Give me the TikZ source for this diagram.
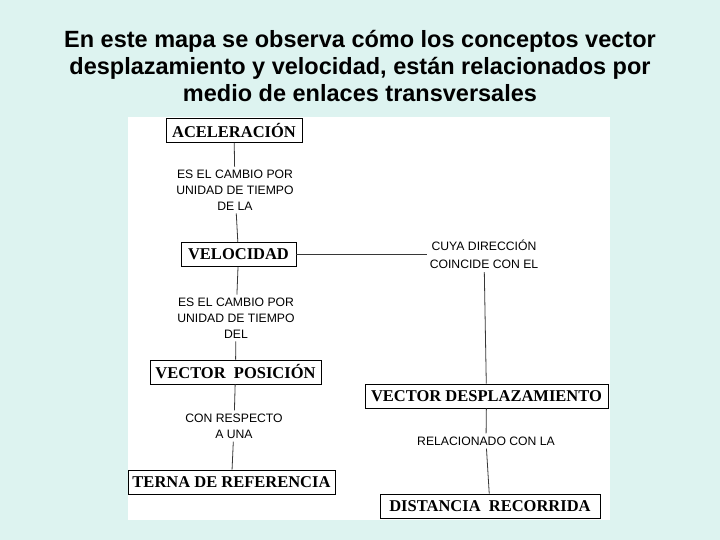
\documentclass[tikz,border=0pt]{standalone}
\usepackage{fontspec}
\setmainfont{Liberation Serif}
\setsansfont{Liberation Sans}
\definecolor{bgmint}{RGB}{221,243,240}
\definecolor{linkgray}{RGB}{55,55,55}
\begin{document}
\begin{tikzpicture}[x=1pt,y=-1pt,
  concept/.style={draw=black,line width=0.8pt,fill=white,inner sep=1pt,
                  minimum height=24pt,font=\rmfamily\bfseries\fontsize{16.5}{18}\selectfont},
  rel/.style={align=center,inner sep=3pt,font=\sffamily\fontsize{12.2}{16}\selectfont},
  link/.style={line width=0.8pt,linkgray}]
\fill[bgmint] (0,0) rectangle (720,540);
\useasboundingbox (0,0) rectangle (720,540);
\fill[white] (128,117) rectangle (610,520);
\node[align=center,font=\sffamily\bfseries\fontsize{23.5}{27}\selectfont] (title) at (360,66)
  {En este mapa se observa cómo los conceptos vector\\
   desplazamiento y velocidad, están relacionados por\\
   medio de enlaces transversales};
\node[concept,minimum width=136pt] (acel)  at (234,130.5) {ACELERACIÓN};
\node[concept,minimum width=115pt] (velo)  at (238.5,254.5) {VELOCIDAD};
\node[concept,minimum width=171pt] (vpos)  at (235.5,372) {VECTOR\ \ POSICIÓN};
\node[concept,minimum width=207pt] (terna) at (231.5,482) {TERNA DE REFERENCIA};
\node[concept,minimum width=243pt] (vdesp) at (486.5,396) {VECTOR DESPLAZAMIENTO};
\node[concept,minimum width=220pt] (dist)  at (490,506) {DISTANCIA\ \ RECORRIDA};
\node[rel] (cambio1) at (235,190) {ES EL CAMBIO POR\\UNIDAD DE TIEMPO\\DE LA};
\node[rel] (cambio2) at (236,318) {ES EL CAMBIO POR\\UNIDAD DE TIEMPO\\DEL};
\node[rel] (respecto) at (234,426) {CON RESPECTO\\A UNA};
\node[rel,font=\sffamily\fontsize{12.2}{18}\selectfont] (cuya) at (484,254.5)
  {CUYA DIRECCIÓN\\COINCIDE CON EL};
\node[rel] (relac) at (486,441) {RELACIONADO CON LA};
\draw[link] (acel) -- (cambio1); \draw[link] (cambio1) -- (velo);
\draw[link] (velo) -- (cambio2); \draw[link] (cambio2) -- (vpos);
\draw[link] (vpos) -- (respecto); \draw[link] (respecto) -- (terna);
\draw[link] (velo) -- (cuya);    \draw[link] (cuya) -- (vdesp);
\draw[link] (vdesp) -- (relac);  \draw[link] (relac) -- (dist);
\end{tikzpicture}
\end{document}
